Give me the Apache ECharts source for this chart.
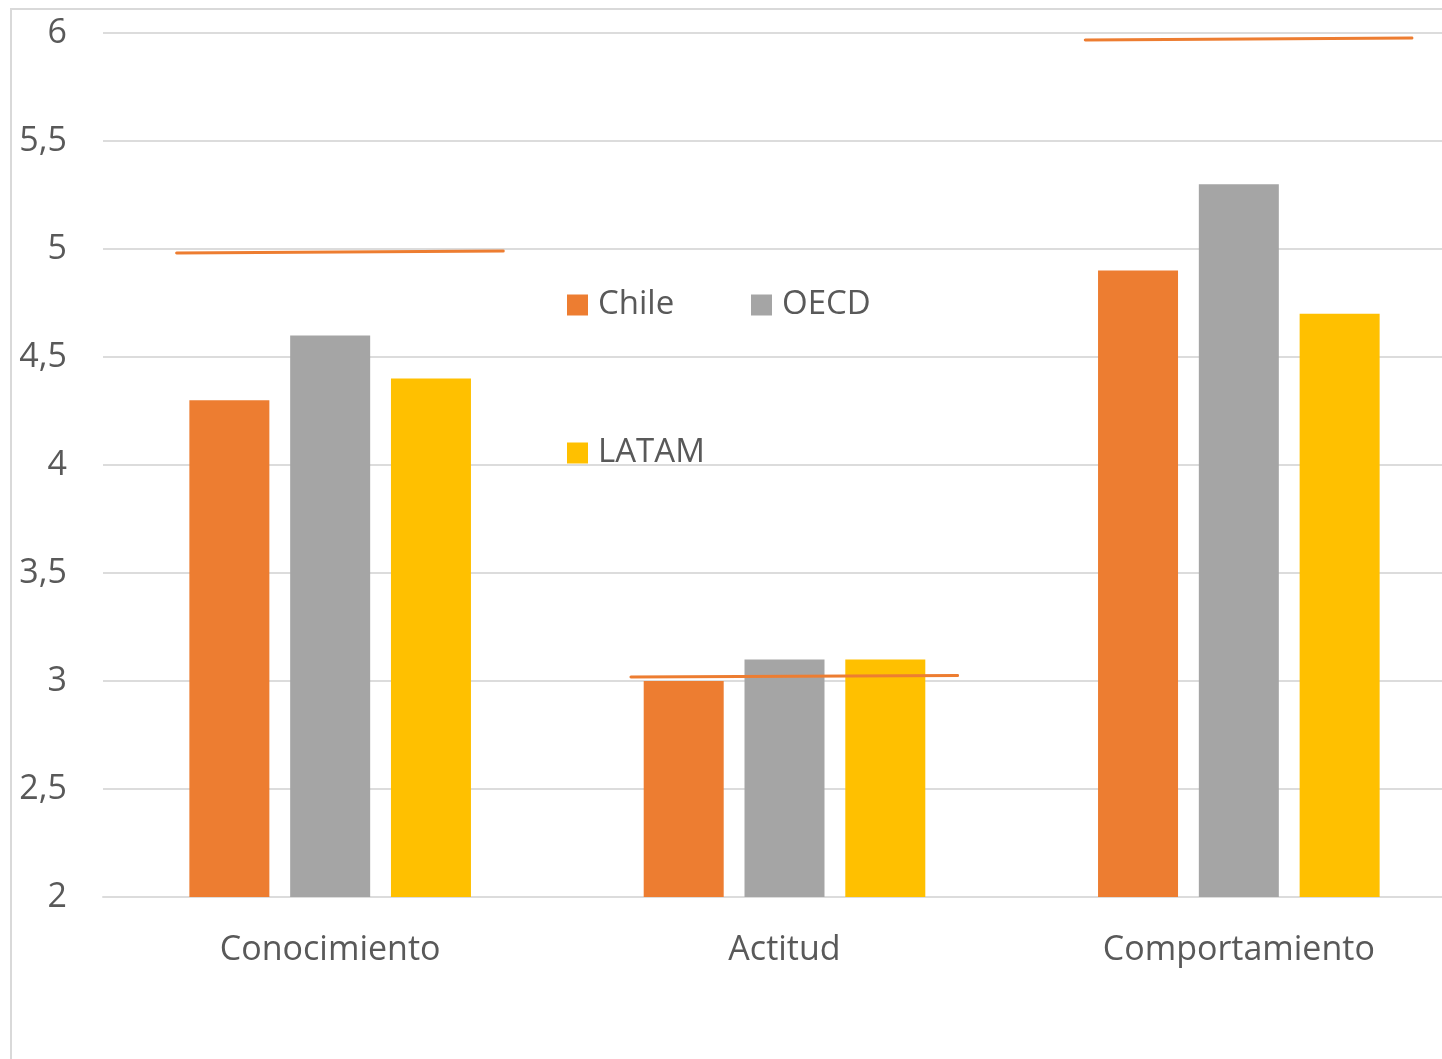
<!DOCTYPE html>
<html>
<head>
<meta charset="utf-8">
<style>
  html, body { margin: 0; padding: 0; background: #ffffff; overflow: hidden; }
  body { width: 1442px; height: 1059px; }
  /* the plot runs slightly past the right edge of the page */
  #chart { width: 1466px; height: 1059px; }
</style>
<script src="https://cdn.jsdelivr.net/npm/echarts@6/dist/echarts.min.js"></script>
</head>
<body>
<div id="chart"></div>
<script>
// Dimensiones evaluadas
const categories = ['Conocimiento', 'Actitud', 'Comportamiento'];

// Puntajes promedio por grupo
const chile = [4.3, 3.0, 4.9];
const oecd  = [4.6, 3.1, 5.3];
const latam = [4.4, 3.1, 4.7];

// Línea de referencia (valor al inicio y al final de cada trazo)
const refStart = [4.981, 3.019, 5.968];
const refEnd   = [4.991, 3.026, 5.977];

// Marcas del eje vertical
const yTicks = [2, 2.5, 3, 3.5, 4, 4.5, 5, 5.5, 6];

const FONT = '"Open Sans", "Noto Sans", sans-serif';
const TEXT = '#595959';
const GRID = '#dcdcdc';
const C_CHILE = '#ED7D31';
const C_OECD = '#A5A5A5';
const C_LATAM = '#FFC000';

const refData = categories.map((c, i) => [i, refStart[i], refEnd[i]]);

const chart = echarts.init(document.getElementById('chart'), null, { renderer: 'canvas' });

const legendText = { color: TEXT, fontSize: 33, fontFamily: FONT, lineHeight: 40, padding: [0, 0, 0, 5] };
const legendBase = {
  orient: 'horizontal',
  icon: 'rect',
  itemWidth: 21,
  itemHeight: 21,
  itemGap: 0,
  padding: 0,
  selectedMode: false,
  textStyle: legendText
};

chart.setOption({
  backgroundColor: '#ffffff',
  animation: false,
  graphic: [{
    type: 'rect',
    silent: true,
    z: -1,
    shape: { x: 11, y: 9, width: 1500, height: 1100 },
    style: { fill: 'none', stroke: '#d9d9d9', lineWidth: 2 }
  }],
  legend: [
    Object.assign({}, legendBase, { data: ['Chile'], left: 567, top: 285 }),
    Object.assign({}, legendBase, { data: ['OECD'], left: 751, top: 285 }),
    Object.assign({}, legendBase, { data: ['LATAM'], left: 567, top: 433 })
  ],
  grid: { left: 103, right: 0, top: 33, bottom: 162, containLabel: false },
  xAxis: {
    type: 'category',
    data: categories,
    axisLine: { show: true, lineStyle: { color: GRID, width: 2 } },
    axisTick: { show: false },
    axisLabel: { color: TEXT, fontSize: 34, fontFamily: FONT, margin: 36 },
    splitLine: { show: false }
  },
  yAxis: {
    type: 'value',
    min: yTicks[0],
    max: yTicks[yTicks.length - 1],
    interval: yTicks[1] - yTicks[0],
    axisLine: { show: false },
    axisTick: { show: false },
    axisLabel: {
      color: TEXT, fontSize: 34, fontFamily: FONT, margin: 36,
      formatter: v => String(v).replace('.', ',')
    },
    splitLine: { show: true, lineStyle: { color: GRID, width: 2 } }
  },
  series: [
    { name: 'Chile', type: 'bar', data: chile, barWidth: 80, barGap: '26%',
      itemStyle: { color: C_CHILE } },
    { name: 'OECD', type: 'bar', data: oecd, barWidth: 80, barGap: '26%',
      itemStyle: { color: C_OECD } },
    { name: 'LATAM', type: 'bar', data: latam, barWidth: 80, barGap: '26%',
      itemStyle: { color: C_LATAM } },
    {
      name: 'Referencia',
      type: 'custom',
      z: 5,
      data: refData,
      encode: { x: 0, y: [1, 2] },
      renderItem: function (params, api) {
        const idx = api.value(0);
        const band = api.size([1, 0])[0];
        const p1 = api.coord([idx, api.value(1)]);
        const p2 = api.coord([idx, api.value(2)]);
        return {
          type: 'line',
          shape: {
            x1: p1[0] - band * 0.338, y1: p1[1],
            x2: p2[0] + band * 0.381, y2: p2[1]
          },
          style: { stroke: C_CHILE, lineWidth: 3, lineCap: 'round' }
        };
      }
    }
  ]
});
</script>
</body>
</html>
